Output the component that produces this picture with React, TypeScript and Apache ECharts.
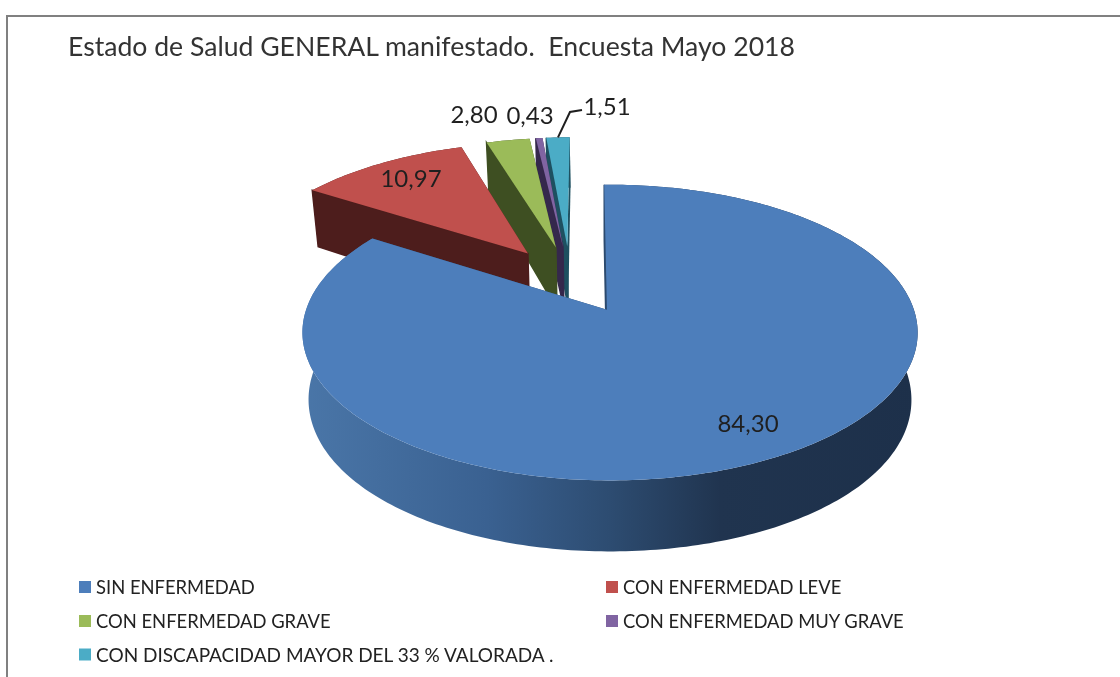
import React, { useEffect, useRef } from "react";
import * as echarts from "echarts";

const TITLE = "Estado de Salud GENERAL manifestado.  Encuesta Mayo 2018";
const CATEGORIES = [
  "SIN ENFERMEDAD",
  "CON ENFERMEDAD LEVE",
  "CON ENFERMEDAD GRAVE",
  "CON ENFERMEDAD MUY GRAVE",
  "CON DISCAPACIDAD MAYOR DEL 33 % VALORADA .",
];
const VALUES = [84.3, 10.97, 2.8, 0.43, 1.51];

const TOP_COLORS = ["#4d7ebb", "#c0504d", "#9bbb59", "#8064a2", "#4bacc6"];
const WALL_COLORS = ["#2c4a6e", "#4d1d1c", "#3e4f22", "#35284c", "#1e5060"];
const DRAW_ORDER = [5, 4, 3, 2, 1];
const LABEL_ANCHORS = [
  [748, 422],
  [411, 177],
  [474, 113],
  [530, 114],
  [607, 105],
];
const LEGEND_ANCHORS = [
  [79, 578],
  [606, 578],
  [79, 612],
  [606, 612],
  [79, 645],
];
const LEGEND_FONT_SIZES = [18.4, 18.4, 18.4, 18.4, 19];

const FONT = "Lato, Carlito, sans-serif";
const K = 0.155, RX = 304, RY = 144.4, X0 = 608, Y0 = 310;
const CENTER = [-0.1165, 0.22];
const EXPLODE = 0.25;
const APEX_NUDGE = 0.01;
const START_ANGLE = -1.2;
const rad = (d: number) => (d * Math.PI) / 180;

function project(u: number, v: number, bottom: boolean): number[] {
  const w = 1 + K * v;
  const x = X0 + (RX * u) / w;
  const y = Y0 - (RY * v) / w;
  if (!bottom) return [x, y];
  const t = Math.max(0, (481 - y) / 294);
  const depth = 71 - 15 * t * t;
  return [X0 + (x - X0) * 0.98, y + depth];
}

function sliceGeometry(i: number) {
  const total = VALUES.reduce((a, b) => a + b, 0);
  const before = VALUES.slice(0, i).reduce((a, b) => a + b, 0);
  const a0 = START_ANGLE + (before / total) * 360;
  const a1 = a0 + (VALUES[i] / total) * 360;
  const mid = rad((a0 + a1) / 2);
  const au = CENTER[0] + EXPLODE * Math.sin(mid);
  const av = CENTER[1] + EXPLODE * Math.cos(mid);
  const arc = (bottom: boolean) => {
    const pts: number[][] = [];
    const n = Math.max(2, Math.ceil(a1 - a0));
    for (let k = 0; k <= n; k++) {
      const t = rad(a0 + ((a1 - a0) * k) / n);
      pts.push(project(au + Math.sin(t), av + Math.cos(t), bottom));
    }
    return pts;
  };
  return { au, av, mid, arc };
}

function renderSlice(i: number) {
  return () => {
    const { au, av, mid, arc } = sliceGeometry(i);
    const topArc = arc(false);
    const botArc = arc(true);
    const apexT = project(au - APEX_NUDGE, av, false);
    const apexB = project(au - APEX_NUDGE, av, true);
    const wall = WALL_COLORS[i];
    const outerFill =
      i === 0
        ? new echarts.graphic.LinearGradient(0, 0, 1, 0, [
            { offset: 0, color: "#4a76a8" },
            { offset: 0.3, color: "#3a6191" },
            { offset: 0.5, color: "#2d4c71" },
            { offset: 0.68, color: "#20344f" },
            { offset: 1, color: "#1d304a" },
          ])
        : wall;
    const children: any[] = [
      {
        type: "polygon",
        shape: { points: [...topArc, ...botArc.slice().reverse()] },
        style: { fill: outerFill },
      },
      {
        type: "polygon",
        shape: { points: [apexT, topArc[topArc.length - 1], botArc[botArc.length - 1], apexB] },
        style: { fill: wall },
      },
      {
        type: "polygon",
        shape: { points: [apexT, topArc[0], botArc[0], apexB] },
        style: { fill: wall, stroke: wall, lineWidth: 1.5 },
      },
      {
        type: "polygon",
        shape: { points: [apexT, ...topArc] },
        style: { fill: TOP_COLORS[i] },
      },
      {
        type: "text",
        style: {
          text: VALUES[i].toFixed(2).replace(".", ","),
          x: LABEL_ANCHORS[i][0],
          y: LABEL_ANCHORS[i][1],
          font: `24px ${FONT}`,
          fill: "#1f1f1f",
          align: "center",
          verticalAlign: "middle",
        },
      },
    ];
    if (i === 4) {
      const outer = project(au + Math.sin(mid), av + Math.cos(mid), false);
      children.push({
        type: "polyline",
        shape: { points: [outer, [570, 112], [582, 110]] },
        style: { stroke: "#1f1f1f", lineWidth: 2, fill: "none" },
      });
    }
    return { type: "group", children };
  };
}

export default function App() {
  const ref = useRef<HTMLDivElement>(null);
  useEffect(() => {
    const chart = echarts.init(ref.current!, undefined, { renderer: "svg" });
    chart.setOption({
      animation: false,
      backgroundColor: "#ffffff",
      title: {
        text: TITLE,
        left: 68,
        top: 32,
        padding: 0,
        textStyle: { fontFamily: FONT, fontSize: 26.6, fontWeight: "normal", color: "#333333" },
      },
      legend: CATEGORIES.map((name, i) => ({
        data: [name],
        left: LEGEND_ANCHORS[i][0],
        top: LEGEND_ANCHORS[i][1],
        padding: 0,
        itemWidth: 12,
        itemHeight: 12,
        icon: "rect",
        selectedMode: false,
        textStyle: { fontFamily: FONT, fontSize: LEGEND_FONT_SIZES[i], color: "#222222" },
      })),
      graphic: [
        { type: "line", shape: { x1: 6, y1: 16, x2: 1120, y2: 16 }, style: { stroke: "#808080", lineWidth: 2 } },
        { type: "line", shape: { x1: 7, y1: 16, x2: 7, y2: 677 }, style: { stroke: "#808080", lineWidth: 2 } },
      ],
      series: CATEGORIES.map((name, i) => ({
        type: "custom",
        name,
        coordinateSystem: "none",
        z: DRAW_ORDER[i],
        silent: true,
        itemStyle: { color: TOP_COLORS[i] },
        data: [[VALUES[i]]],
        renderItem: renderSlice(i),
      })),
    });
    return () => chart.dispose();
  }, []);
  return <div ref={ref} style={{ position: "fixed", left: 0, top: 0, width: 1120, height: 677, filter: "blur(0.5px)" }} />;
}
